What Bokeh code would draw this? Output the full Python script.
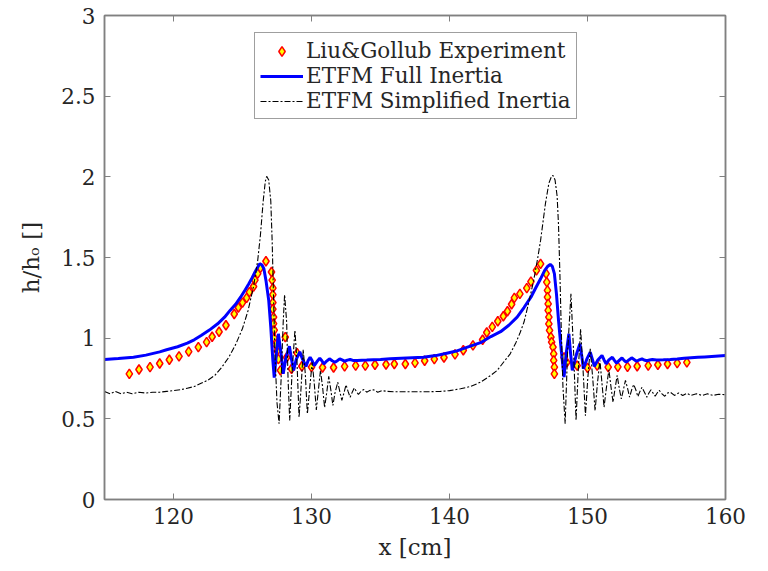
from bokeh.plotting import figure
from bokeh.models import (Range1d, FixedTicker, LinearAxis, Legend, LegendItem,
                          CustomLabelingPolicy)
from bokeh.embed import file_html
from bokeh.resources import INLINE

# ---------------- data ----------------
exp_x = [116.8, 117.5, 118.3, 119.0, 119.7, 120.4, 121.1, 121.8, 122.4, 122.8,
         123.3, 123.8, 124.4, 124.7, 125.0, 125.3, 125.5, 125.8, 125.9, 126.1,
         126.3, 126.7, 127.1, 127.15, 127.2, 127.2, 127.2, 127.2, 127.25, 127.25,
         127.3, 127.3, 127.4, 127.5, 127.6, 127.75, 128.1, 128.2, 128.55, 128.96,
         129.3, 130.0, 130.8, 131.6, 132.4, 133.2, 133.9, 134.6, 135.4, 136.0,
         136.8, 137.5, 138.2, 138.9, 139.6, 140.4, 141.0, 141.7, 142.4, 142.7,
         143.1, 143.5, 143.9, 144.2, 144.5, 144.7, 145.1, 145.6, 145.9, 146.3,
         146.6, 147.0, 147.05, 147.1, 147.1, 147.15, 147.15, 147.2, 147.2, 147.25,
         147.35, 147.4, 147.5, 147.55, 147.55, 147.6, 147.6, 148.3, 148.5, 149.25,
         150.0, 150.7, 151.5, 152.2, 152.9, 153.6, 154.4, 155.1, 155.8, 156.5,
         157.2]
exp_y = [0.779, 0.806, 0.82, 0.843, 0.866, 0.887, 0.917, 0.944, 0.975, 1.009,
         1.04, 1.08, 1.15, 1.19, 1.22, 1.25, 1.285, 1.32, 1.36, 1.40,
         1.436, 1.477, 1.41, 1.36, 1.31, 1.27, 1.22, 1.18, 1.13, 1.09,
         1.05, 1.00, 0.96, 0.92, 0.87, 0.80, 1.006, 0.88, 0.81, 0.907,
         0.826, 0.82, 0.818, 0.818, 0.825, 0.83, 0.83, 0.835, 0.837, 0.84,
         0.84, 0.847, 0.86, 0.87, 0.88, 0.90, 0.925, 0.955, 0.99, 1.035,
         1.07, 1.105, 1.136, 1.167, 1.21, 1.25, 1.275, 1.31, 1.35, 1.42,
         1.46, 1.40, 1.347, 1.296, 1.254, 1.213, 1.172, 1.13, 1.089, 1.048,
         1.006, 0.975, 0.944, 0.903, 0.862, 0.82, 0.779, 0.88, 0.85, 0.83,
         0.816, 0.83, 0.82, 0.822, 0.822, 0.826, 0.83, 0.835, 0.84, 0.845,
         0.85]

full_x = [115.0, 116.0, 117.1, 118.0, 119.0, 119.5, 120.3, 121.0, 121.5, 122.0,
          122.6, 123.2, 123.7, 124.1, 124.5, 124.86, 125.2, 125.46, 125.7, 125.9,
          126.1, 126.25, 126.4, 126.55, 126.7, 126.9, 127.05, 127.2, 127.3, 127.45,
          127.6, 127.8, 127.95, 128.15, 128.4, 128.55, 128.7, 128.9, 129.15, 129.35,
          129.6, 129.75, 129.9, 130.05, 130.2, 130.4, 130.6, 130.75, 130.9, 131.1,
          131.3, 131.5, 131.7, 131.9, 132.05, 132.25, 132.4, 132.6, 132.8, 133.0,
          133.3, 134.0, 135.0, 135.7, 136.5, 137.3, 138.1, 139.0, 139.8, 140.5,
          141.3, 142.25, 143.0, 143.7, 144.3, 144.9, 145.4, 145.9, 146.3, 146.6,
          146.9, 147.1, 147.3, 147.45, 147.6, 147.75, 147.9, 148.1, 148.3, 148.45,
          148.65, 148.78, 148.9, 149.2, 149.45, 149.6, 149.7, 149.95, 150.2, 150.35,
          150.5, 150.75, 151.05, 151.2, 151.35, 151.55, 151.8, 151.95, 152.1, 152.3,
          152.5, 152.65, 152.8, 153.0, 153.2, 153.4, 153.55, 153.75, 153.95, 154.1,
          154.3, 154.5, 154.7, 155.0, 155.5, 156.0, 156.5, 157.0, 157.5, 158.0,
          158.5, 159.0, 159.5, 160.0]
full_y = [0.868, 0.874, 0.882, 0.895, 0.915, 0.928, 0.947, 0.969, 0.99, 1.017,
          1.05, 1.089, 1.13, 1.172, 1.21, 1.254, 1.30, 1.337, 1.375, 1.409,
          1.44, 1.461, 1.455, 1.43, 1.358, 1.234, 1.068, 0.862, 0.755, 0.90,
          1.027, 0.90, 0.779, 0.88, 0.95, 0.87, 0.80, 0.87, 0.915, 0.87,
          0.825, 0.86, 0.882, 0.86, 0.83, 0.855, 0.876, 0.86, 0.84, 0.858,
          0.872, 0.86, 0.851, 0.862, 0.872, 0.864, 0.857, 0.864, 0.868, 0.862,
          0.862, 0.864, 0.868, 0.872, 0.876, 0.879, 0.882, 0.892, 0.907, 0.92,
          0.944, 0.972, 1.01, 1.04, 1.08, 1.13, 1.19, 1.254, 1.32, 1.368,
          1.42, 1.444, 1.457, 1.445, 1.40, 1.275, 1.11, 0.924, 0.758, 0.90,
          1.027, 0.90, 0.80, 0.90, 0.965, 0.88, 0.81, 0.87, 0.913, 0.87,
          0.825, 0.865, 0.893, 0.865, 0.841, 0.865, 0.882, 0.862, 0.845, 0.862,
          0.878, 0.862, 0.851, 0.865, 0.878, 0.866, 0.857, 0.865, 0.872, 0.865,
          0.86, 0.865, 0.868, 0.865, 0.866, 0.868, 0.871, 0.875, 0.878, 0.881,
          0.884, 0.887, 0.89, 0.893]

simp_x = [115.0, 115.4, 115.8, 116.2, 116.6, 117.0, 117.5, 118.0, 118.5, 119.0,
          119.5, 120.0, 120.5, 121.0, 121.5, 122.0, 122.5, 123.0, 123.5, 124.0,
          124.5, 125.0, 125.4, 125.8, 126.1, 126.3, 126.5, 126.65, 126.75, 126.9,
          127.05, 127.15, 127.25, 127.35, 127.5, 127.65, 127.8, 127.95, 128.05, 128.2,
          128.3, 128.42, 128.6, 128.8, 128.95, 129.1, 129.25, 129.4, 129.55, 129.7,
          129.88, 130.05, 130.2, 130.35, 130.5, 130.65, 130.8, 130.95, 131.1, 131.25,
          131.4, 131.55, 131.7, 131.9, 132.05, 132.2, 132.35, 132.5, 132.65, 132.8,
          132.95, 133.1, 133.25, 133.4, 133.6, 133.8, 134.0, 134.2, 134.5, 134.8,
          135.1, 135.5, 136.0, 136.5, 137.0, 137.5, 138.0, 138.5, 139.35, 140.0,
          140.8, 141.5, 142.25, 143.0, 143.45, 144.0, 144.4, 144.8, 145.1, 145.4,
          145.6, 145.9, 146.1, 146.4, 146.6, 146.95, 147.2, 147.4, 147.5, 147.65,
          147.8, 147.9, 148.0, 148.1, 148.22, 148.38, 148.55, 148.8, 149.0, 149.17,
          149.33, 149.5, 149.68, 149.85, 150.02, 150.2, 150.38, 150.55, 150.72, 150.9,
          151.05, 151.2, 151.38, 151.55, 151.7, 151.85, 152.0, 152.15, 152.3, 152.45,
          152.6, 152.75, 152.9, 153.05, 153.2, 153.35, 153.5, 153.65, 153.8, 153.95,
          154.1, 154.3, 154.45, 154.6, 154.75, 154.9, 155.05, 155.2, 155.4, 155.6,
          155.8, 156.0, 156.3, 156.6, 156.9, 157.2, 157.5, 157.9, 158.3, 158.7,
          159.1, 159.5, 160.0]
simp_y = [0.67, 0.655, 0.67, 0.655, 0.665, 0.655, 0.665, 0.66, 0.665, 0.665,
          0.67, 0.675, 0.68, 0.69, 0.70, 0.72, 0.74, 0.77, 0.82, 0.88,
          0.96, 1.06, 1.17, 1.32, 1.48, 1.64, 1.85, 1.97, 2.003, 1.98,
          1.85, 1.60, 1.25, 0.90, 0.60, 0.47, 0.75, 1.10, 1.27, 1.10,
          0.75, 0.49, 0.80, 1.05, 0.85, 0.51, 0.70, 0.93, 0.78, 0.53,
          0.70, 0.85, 0.72, 0.555, 0.68, 0.80, 0.70, 0.57, 0.66, 0.763,
          0.68, 0.583, 0.66, 0.727, 0.67, 0.614, 0.66, 0.711, 0.67, 0.634,
          0.665, 0.692, 0.67, 0.651, 0.672, 0.682, 0.665, 0.675, 0.68, 0.665,
          0.675, 0.67, 0.668, 0.668, 0.668, 0.668, 0.668, 0.668, 0.67, 0.675,
          0.686, 0.70, 0.727, 0.77, 0.80, 0.86, 0.903, 0.97, 1.03, 1.10,
          1.17, 1.28, 1.358, 1.50, 1.606, 1.833, 1.96, 2.005, 2.009, 1.98,
          1.88, 1.70, 1.40, 1.05, 0.70, 0.47, 0.90, 1.275, 0.90, 0.49,
          0.80, 1.058, 0.80, 0.52, 0.75, 0.934, 0.75, 0.55, 0.72, 0.862,
          0.72, 0.572, 0.70, 0.804, 0.70, 0.603, 0.69, 0.769, 0.69, 0.624,
          0.68, 0.738, 0.69, 0.634, 0.68, 0.713, 0.68, 0.638, 0.67, 0.696,
          0.67, 0.634, 0.66, 0.68, 0.66, 0.64, 0.66, 0.676, 0.655, 0.64,
          0.66, 0.665, 0.645, 0.66, 0.645, 0.658, 0.645, 0.655, 0.645, 0.655,
          0.645, 0.652, 0.65]

x_ticks = [120, 130, 140, 150, 160]
y_ticks = [0, 0.5, 1, 1.5, 2, 2.5, 3]
y_tick_labels = {0: "0", 0.5: "0.5", 1: "1", 1.5: "1.5", 2: "2", 2.5: "2.5", 3: "3"}

FONT = "DejaVu Serif"
TXT = "#262626"
AX = "#808080"

p = figure(width=768, height=571, output_backend="svg", toolbar_location=None,
           x_range=Range1d(115, 160), y_range=Range1d(0, 3),
           min_border_left=104, min_border_right=43, min_border_top=15,
           min_border_bottom=72, background_fill_color="white",
           border_fill_color="white")
p.grid.visible = False
p.outline_line_color = AX
p.outline_line_width = 1.5

r_exp = p.scatter(exp_x, exp_y, marker="diamond", size=9.5, line_color="#ff0000",
                  line_width=1.5, fill_color="#ffff00")
r_full = p.line(full_x, full_y, line_color="#0000ff", line_width=3)
r_simp = p.line(simp_x, simp_y, line_color="black", line_width=1.1,
                line_dash="6 2 2 2")

for ax in (p.xaxis[0], p.yaxis[0]):
    ax.axis_line_color = AX
    ax.axis_line_width = 1.5
    ax.major_tick_line_color = AX
    ax.major_tick_in = 6
    ax.major_tick_out = 0
    ax.minor_tick_line_color = None
    ax.major_label_text_font = FONT
    ax.major_label_text_font_size = "21.5px"
    ax.major_label_text_color = TXT
    ax.axis_label_text_font = FONT
    ax.axis_label_text_font_size = "23px"
    ax.axis_label_text_font_style = "normal"
    ax.axis_label_text_color = TXT

p.xaxis[0].ticker = FixedTicker(ticks=x_ticks)
p.yaxis[0].ticker = FixedTicker(ticks=y_ticks)
p.yaxis[0].major_label_overrides = y_tick_labels
p.xaxis[0].axis_label = "x [cm]"
p.yaxis[0].axis_label = "h/hₒ []"
p.xaxis[0].major_label_standoff = 8
p.yaxis[0].major_label_standoff = 9
p.xaxis[0].axis_label_standoff = 7
p.yaxis[0].axis_label_standoff = 14

hide = dict(major_label_text_font_size="1px", major_label_standoff=0,
            axis_line_color=AX, axis_line_width=1.5, major_tick_line_color=AX,
            major_tick_in=6, major_tick_out=0, minor_tick_line_color=None)
top = LinearAxis(ticker=FixedTicker(ticks=x_ticks),
                 major_label_policy=CustomLabelingPolicy(code="return []"), **hide)
right = LinearAxis(ticker=FixedTicker(ticks=y_ticks),
                   major_label_policy=CustomLabelingPolicy(code="return []"), **hide)
p.add_layout(top, "above")
p.add_layout(right, "right")

legend = Legend(items=[
    LegendItem(label="Liu&Gollub Experiment", renderers=[r_exp]),
    LegendItem(label="ETFM Full Inertia", renderers=[r_full]),
    LegendItem(label="ETFM Simplified Inertia", renderers=[r_simp]),
], location=(150, 380))
legend.label_text_font = FONT
legend.label_text_font_size = "21.5px"
legend.label_text_color = TXT
legend.glyph_width = 43
legend.glyph_height = 24
legend.label_height = 24
legend.label_standoff = 3
legend.padding = 5
legend.spacing = 0
legend.margin = 0
legend.border_line_color = "#404040"
legend.border_line_width = 1
legend.background_fill_color = "white"
legend.background_fill_alpha = 1
p.add_layout(legend, "center")

open("out.html", "w").write(file_html(p, INLINE))
